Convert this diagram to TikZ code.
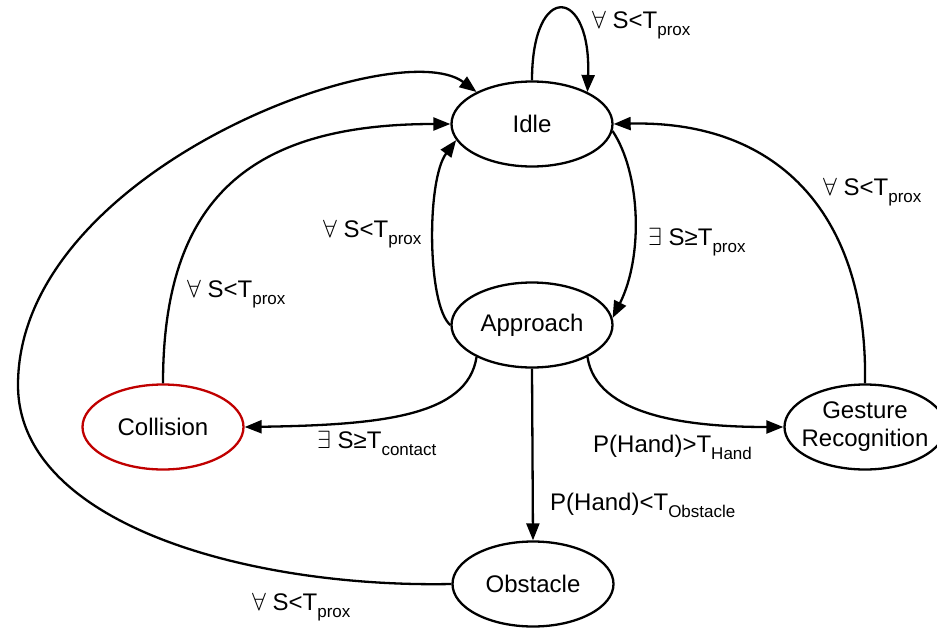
\documentclass[tikz,border=0pt]{standalone}
\usepackage{fontspec}
\setmainfont{Liberation Sans}
\usetikzlibrary{arrows.meta,shapes.geometric}
\definecolor{collred}{RGB}{192,0,0}
\newcommand{\sbs}[1]{\raisebox{-7pt}{\fontsize{17}{17}\selectfont #1}}
\begin{document}
\begin{tikzpicture}[x=1pt,y=-1pt,
  st/.style={ellipse, draw, line width=2.3pt, minimum width=161pt, minimum height=85pt, inner sep=0pt, font=\fontsize{24}{28}\selectfont},
  arr/.style={line width=2.3pt, -{Triangle[length=17pt,width=13pt]}},
  lab/.style={anchor=base west, inner sep=0pt, font=\fontsize{24}{28}\selectfont}]
\useasboundingbox (0,0) rectangle (937,629);
\clip (0,0) rectangle (937,629);
\node[st] (idle) at (532,124) {Idle};
\node[st] (approach) at (532,325) {Approach};
\node[st, draw=collred] (collision) at (163,427) {Collision};
\node[st, align=center, inner xsep=-10pt] (gesture) at (865,427) {Gesture\\Recognition};
\node[st] (obstacle) at (533,584) {Obstacle};
\coordinate (lp) at (18,385);
% connectors
\draw[arr] (idle.north) .. controls +(0,-100) and +(4,-105) .. (idle.30);
\draw[arr] (idle.-5) .. controls +(28,42) and +(31,-62) .. (approach.5);
\draw[arr] (approach.west) .. controls +(-23,-19) and +(-30,40) .. (idle.192);
\draw[arr] (collision.north) .. controls +(0,-185) and +(-200,0) .. (idle.west);
\draw[arr] (obstacle.west) .. controls +(-200,4) and +(0,140) .. (lp) .. controls +(0,-215) and +(-80,-60) .. (idle.150);
\draw[arr] (approach.210) .. controls +(-9,59) and +(137,-2) .. (collision.east);
\draw[arr] (approach.-30) .. controls +(9,59) and +(-95,0) .. (gesture.west);
\draw[arr] (approach.south) -- (obstacle.north);
\draw[arr] (gesture.north) .. controls +(3,-165) and +(168,-4) .. (idle.east);
% labels
\node[lab] (l1) at (592,28) {$\forall$ S<T\sbs{prox}};
\node[lab] (l2) at (323,237) {$\forall$ S<T\sbs{prox}};
\node[lab] (l3) at (648,245) {$\exists$ S≥T\sbs{prox}};
\node[lab] (l4) at (823,195) {$\forall$ S<T\sbs{prox}};
\node[lab] (l5) at (187,297) {$\forall$ S<T\sbs{prox}};
\node[lab] (l6) at (317,448) {$\exists$ S≥T\sbs{contact}};
\node[lab] (l7) at (593,452) {P(Hand)>T\sbs{Hand}};
\node[lab] (l8) at (550,510) {P(Hand)<T\sbs{Obstacle}};
\node[lab] (l9) at (252,610) {$\forall$ S<T\sbs{prox}};
\end{tikzpicture}
\end{document}
